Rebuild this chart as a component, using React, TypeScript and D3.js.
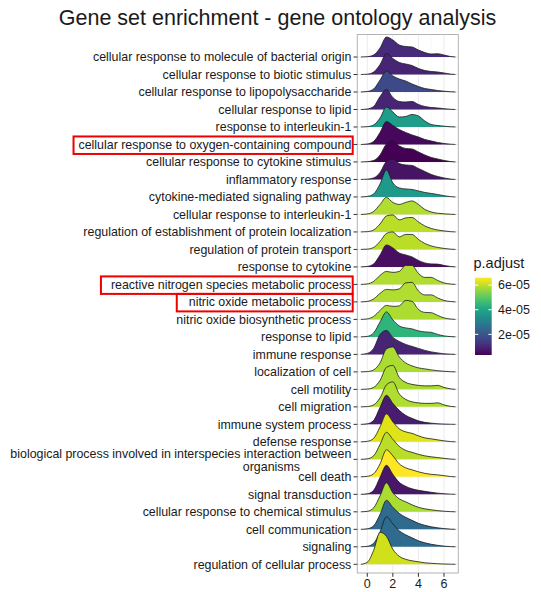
import React, { useEffect, useRef } from 'react';
import * as d3 from 'd3';

// GO terms, top to bottom
const terms = [
  'cellular response to molecule of bacterial origin',
  'cellular response to biotic stimulus',
  'cellular response to lipopolysaccharide',
  'cellular response to lipid',
  'response to interleukin-1',
  'cellular response to oxygen-containing compound',
  'cellular response to cytokine stimulus',
  'inflammatory response',
  'cytokine-mediated signaling pathway',
  'cellular response to interleukin-1',
  'regulation of establishment of protein localization',
  'regulation of protein transport',
  'response to cytokine',
  'reactive nitrogen species metabolic process',
  'nitric oxide metabolic process',
  'nitric oxide biosynthetic process',
  'response to lipid',
  'immune response',
  'localization of cell',
  'cell motility',
  'cell migration',
  'immune system process',
  'defense response',
  'biological process involved in interspecies interaction between\norganisms',
  'cell death',
  'signal transduction',
  'cellular response to chemical stimulus',
  'cell communication',
  'signaling',
  'regulation of cellular process',
];

const pAdjust = [
  1.07e-5, 9.5e-6, 1.7e-5, 9.5e-6, 3.8e-5, 4.5e-6, 3.2e-6, 6.3e-6, 3.7e-5, 5.85e-5,
  5.95e-5, 5.95e-5, 5.5e-6, 5.85e-5, 5.85e-5, 5.8e-5, 4.4e-5, 9.5e-6, 5.8e-5, 5.8e-5,
  5.85e-5, 8.2e-6, 6.3e-5, 5.95e-5, 6.6e-5, 7e-6, 5.8e-5, 2.5e-5, 2.5e-5, 6.15e-5,
];

// density estimate per term, sampled at xGrid
const xGrid = [-0.5, 0, 0.5, 1, 1.5, 2, 2.5, 3, 3.5, 4, 4.5, 5, 5.5, 6, 6.5, 6.9];
const densities = [
  [0, .006, .04, .18, .40, .34, .24, .21, .20, .14, .09, .06, .066, .04, .01, 0],
  [0, .006, .05, .20, .42, .32, .24, .21, .18, .12, .08, .06, .05, .03, .008, 0],
  [0, .01, .06, .24, .42, .32, .26, .22, .16, .11, .07, .05, .03, .016, .004, 0],
  [0, .01, .06, .26, .40, .24, .16, .15, .16, .10, .06, .04, .03, .016, .004, 0],
  [0, .006, .04, .18, .40, .30, .20, .21, .25, .22, .12, .05, .03, .016, .004, 0],
  [0, .01, .06, .24, .46, .38, .30, .24, .19, .15, .10, .07, .04, .02, .006, 0],
  [0, .006, .03, .14, .36, .42, .32, .27, .26, .20, .14, .09, .06, .03, .008, 0],
  [0, .006, .03, .14, .36, .41, .32, .29, .28, .22, .16, .10, .06, .03, .008, 0],
  [0, .01, .06, .26, .54, .28, .18, .16, .15, .12, .09, .07, .05, .024, .006, 0],
  [0, .01, .06, .20, .34, .24, .20, .24, .27, .20, .10, .05, .024, .012, .004, 0],
  [0, .006, .04, .16, .32, .34, .24, .28, .29, .20, .12, .07, .04, .02, .006, 0],
  [0, .006, .04, .16, .32, .35, .25, .30, .30, .20, .12, .07, .04, .02, .006, 0],
  [0, .01, .06, .24, .44, .38, .28, .24, .20, .13, .08, .06, .056, .03, .008, 0],
  [0, .01, .06, .18, .26, .24, .26, .38, .38, .22, .14, .14, .08, .03, .008, 0],
  [0, .01, .06, .17, .25, .24, .26, .38, .39, .22, .14, .14, .08, .03, .008, 0],
  [0, .01, .06, .18, .28, .26, .27, .38, .36, .20, .14, .134, .08, .03, .008, 0],
  [0, .01, .08, .30, .50, .34, .22, .18, .16, .12, .10, .09, .05, .02, .006, 0],
  [0, .02, .12, .40, .48, .34, .26, .20, .16, .12, .08, .05, .03, .012, .004, 0],
  [0, .006, .04, .18, .46, .50, .30, .18, .12, .08, .06, .04, .024, .012, .004, 0],
  [0, .006, .04, .18, .44, .48, .24, .14, .10, .08, .07, .07, .08, .04, .01, 0],
  [0, .006, .04, .18, .44, .50, .26, .15, .10, .08, .07, .07, .08, .04, .01, 0],
  [0, .01, .08, .34, .58, .42, .28, .18, .12, .07, .04, .024, .012, .006, .002, 0],
  [0, .01, .07, .30, .56, .40, .26, .20, .17, .12, .08, .06, .04, .02, .006, 0],
  [0, .01, .07, .30, .54, .40, .26, .18, .14, .10, .07, .05, .036, .02, .006, 0],
  [0, .01, .06, .26, .54, .42, .26, .18, .14, .10, .07, .05, .04, .024, .006, 0],
  [0, .01, .08, .34, .58, .40, .24, .16, .11, .08, .06, .04, .024, .012, .004, 0],
  [0, .01, .08, .32, .58, .38, .26, .20, .14, .09, .06, .04, .024, .012, .004, 0],
  [0, .01, .07, .30, .58, .44, .32, .24, .18, .12, .08, .05, .03, .014, .004, 0],
  [0, .01, .07, .30, .60, .46, .32, .24, .18, .12, .08, .05, .03, .014, .004, 0],
  [0, .04, .28, .64, .56, .30, .16, .10, .07, .05, .03, .02, .012, .006, .002, 0],
];

const xTicks = [0, 2, 4, 6];
const legendTicks = [2e-5, 4e-5, 6e-5];
const highlighted = [
  'cellular response to oxygen-containing compound',
  'reactive nitrogen species metabolic process',
  'nitric oxide metabolic process',
];
const boxPad = [5, 10, 12];

const W = 541;
const H = 592;
const FONT = '"Liberation Sans", Arial, sans-serif';

export default function App() {
  const ref = useRef<SVGSVGElement>(null);

  useEffect(() => {
    const svg = d3.select(ref.current);
    svg.selectAll('*').remove();

    const panel = { left: 357.3, right: 458.3, top: 34.5, bottom: 573 };

    const x = d3.scaleLinear().domain([-0.78, 7.12]).range([panel.left, panel.right]);
    const y = d3.scalePoint().domain(terms).range([57, 564.3]);
    const h = d3.scaleLinear().domain([0, 1]).range([0, 50]);
    const color = d3.scaleSequential(d3.interpolateViridis).domain([3.2e-6, 6.6e-5]);

    svg.append('rect').attr('width', W).attr('height', H).attr('fill', '#fff');

    // title
    svg.append('text')
      .attr('x', 277.5).attr('y', 25)
      .attr('text-anchor', 'middle')
      .style('font-family', FONT).style('font-size', '21.5px').attr('fill', '#1a1a1a')
      .text('Gene set enrichment - gene ontology analysis');

    // grid
    const g = svg.append('g');
    g.selectAll('.minor').data([1, 3, 5]).enter().append('line')
      .attr('x1', d => x(d)).attr('x2', d => x(d))
      .attr('y1', panel.top).attr('y2', panel.bottom)
      .attr('stroke', '#f2f2f2').attr('stroke-width', 0.5);
    g.selectAll('.major').data(xTicks).enter().append('line')
      .attr('x1', d => x(d)).attr('x2', d => x(d))
      .attr('y1', panel.top).attr('y2', panel.bottom)
      .attr('stroke', '#ebebeb').attr('stroke-width', 1);
    g.selectAll('.hmajor').data(terms).enter().append('line')
      .attr('x1', panel.left).attr('x2', panel.right)
      .attr('y1', d => y(d)!).attr('y2', d => y(d)!)
      .attr('stroke', '#ebebeb').attr('stroke-width', 1);

    // ridges, top row first so lower rows overlap
    terms.forEach((t, i) => {
      const base = y(t)!;
      const pts = xGrid.map((xv, j) => [xv, densities[i][j]] as [number, number]);
      const area = d3.area<[number, number]>()
        .x(d => x(d[0])).y0(base).y1(d => base - h(d[1]))
        .curve(d3.curveMonotoneX);
      const line = d3.line<[number, number]>()
        .x(d => x(d[0])).y(d => base - h(d[1]))
        .curve(d3.curveMonotoneX);
      svg.append('path').attr('d', area(pts)!).attr('fill', color(pAdjust[i]));
      svg.append('path').attr('d', line(pts)!).attr('fill', 'none')
        .attr('stroke', '#1a1a1a').attr('stroke-width', 0.8);
    });

    // panel border
    svg.append('rect')
      .attr('x', panel.left).attr('y', panel.top)
      .attr('width', panel.right - panel.left).attr('height', panel.bottom - panel.top)
      .attr('fill', 'none').attr('stroke', '#b3b3b3').attr('stroke-width', 1);

    // y axis
    const yAx = svg.append('g');
    yAx.selectAll('line').data(terms).enter().append('line')
      .attr('x1', panel.left - 3.8).attr('x2', panel.left)
      .attr('y1', d => y(d)!).attr('y2', d => y(d)!)
      .attr('stroke', '#333').attr('stroke-width', 1);
    const labels = yAx.selectAll('text').data(terms).enter().append('text')
      .attr('y', d => y(d)!)
      .attr('text-anchor', 'end')
      .style('font-family', FONT).style('font-size', '12.4px').attr('fill', '#1a1a1a');
    labels.each(function (d) {
      const el = d3.select(this);
      const parts = d.split('\n');
      if (parts.length === 1) {
        el.append('tspan').attr('x', panel.left - 6).attr('dy', '0.35em').text(d);
      } else {
        el.append('tspan').attr('x', panel.left - 6).attr('dy', '-0.12em').text(parts[0]);
        el.append('tspan').attr('x', 300).attr('dy', '1.05em').text(parts[1]);
      }
    });

    // highlight boxes
    labels.filter(d => highlighted.includes(d)).each(function (d) {
      const bb = (this as SVGTextElement).getBBox();
      const k = highlighted.indexOf(d);
      const base = y(d)!;
      svg.append('rect')
        .attr('x', bb.x - boxPad[k]).attr('y', base - 8)
        .attr('width', 352.7 - (bb.x - boxPad[k])).attr('height', 17.5)
        .attr('fill', 'none').attr('stroke', '#ee0000').attr('stroke-width', 2);
    });

    // x axis
    const xAx = svg.append('g');
    xAx.selectAll('line').data(xTicks).enter().append('line')
      .attr('x1', d => x(d)).attr('x2', d => x(d))
      .attr('y1', panel.bottom).attr('y2', panel.bottom + 3.8)
      .attr('stroke', '#333').attr('stroke-width', 1);
    xAx.selectAll('text').data(xTicks).enter().append('text')
      .attr('x', d => x(d)).attr('y', panel.bottom + 15)
      .attr('text-anchor', 'middle')
      .style('font-family', FONT).style('font-size', '12.5px').attr('fill', '#1a1a1a')
      .text(d => String(d));

    // legend
    const leg = { x: 475, y0: 277.7, y1: 355, w: 16.7 };
    const lv = d3.scaleLinear().domain(color.domain()).range([leg.y1, leg.y0]);
    svg.append('text')
      .attr('x', 473.5).attr('y', 268)
      .style('font-family', FONT).style('font-size', '14.5px').attr('fill', '#1a1a1a')
      .text('p.adjust');
    const grad = svg.append('defs').append('linearGradient')
      .attr('id', 'padj').attr('x1', 0).attr('x2', 0).attr('y1', 1).attr('y2', 0);
    d3.range(0, 1.0001, 0.1).forEach(t => {
      grad.append('stop').attr('offset', t)
        .attr('stop-color', d3.interpolateViridis(t));
    });
    svg.append('rect')
      .attr('x', leg.x).attr('y', leg.y0)
      .attr('width', leg.w).attr('height', leg.y1 - leg.y0)
      .attr('fill', 'url(#padj)');
    legendTicks.forEach(v => {
      const yy = lv(v);
      svg.append('line').attr('x1', leg.x).attr('x2', leg.x + 3.3)
        .attr('y1', yy).attr('y2', yy).attr('stroke', '#fff').attr('stroke-width', 1);
      svg.append('line').attr('x1', leg.x + leg.w - 3.3).attr('x2', leg.x + leg.w)
        .attr('y1', yy).attr('y2', yy).attr('stroke', '#fff').attr('stroke-width', 1);
      svg.append('text')
        .attr('x', 498).attr('y', yy).attr('dy', '0.35em')
        .style('font-family', FONT).style('font-size', '12.5px').attr('fill', '#1a1a1a')
        .text(d3.format('.0e')(v).replace('e-5', 'e-05'));
    });
  }, []);

  return (
    <svg ref={ref} width={W} height={H}
      style={{ position: 'absolute', left: 0, top: 0 }} />
  );
}
